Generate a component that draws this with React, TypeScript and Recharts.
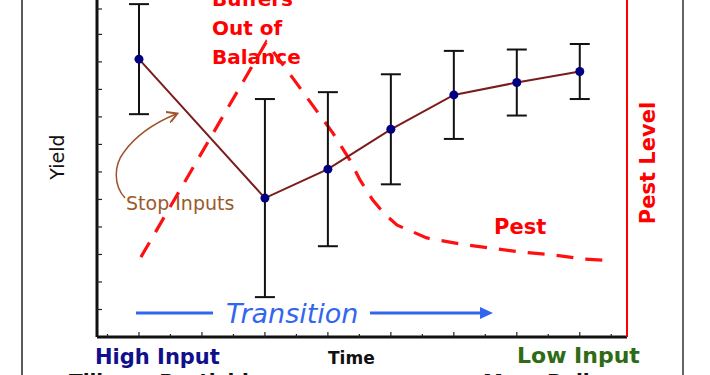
import { LineChart, Line, XAxis, YAxis, ErrorBar, Customized } from 'recharts';

// yield measured at each time step
const times = [1, 3, 4, 5, 6, 7, 8];
const yieldValues = [10.1, 5.05, 6.1, 7.55, 8.8, 9.25, 9.65];
const yieldErrors = [2.0, 3.6, 2.8, 2.0, 1.6, 1.2, 1.0];

// pest level curve (right axis, 0-100)
const pestTimes = [1.03, 3.02, 3.44, 4.08, 4.35, 4.51, 4.71, 4.9, 5.1, 5.57, 6.1, 6.57, 7.08, 7.6, 8.08, 8.4];
const pestValues = [23.7, 87.5, 76.9, 60.5, 52.5, 46.6, 40.7, 36.5, 33.2, 29.4, 27.6, 26.4, 25.2, 24.3, 23.1, 22.8];

const xTicks = [0.5, 1, 1.5, 2, 2.5, 3, 3.5, 4, 4.5, 5, 5.5, 6, 6.5, 7, 7.5, 8, 8.5];
const yTicks = [1, 2, 3, 4, 5, 6, 7, 8, 9, 10, 11, 12];

const yieldData = times.map((t, i) => ({ t, yield: yieldValues[i], err: yieldErrors[i] }));
const pestData = pestTimes.map((t, i) => ({ t, pest: pestValues[i] }));

const FONT = '"DejaVu Sans", Verdana, sans-serif';

const XTick = (props: any) => {
  const { x, y, payload } = props;
  const major = Number.isInteger(payload.value);
  return <line x1={x} x2={x} y1={y} y2={y - (major ? 5 : 3)} stroke="#222" strokeWidth={1.2} />;
};

const YTick = (props: any) => {
  const { x, y } = props;
  return <line x1={x} x2={x + 5} y1={y} y2={y} stroke="#222" strokeWidth={1.2} />;
};

const Annotations = () => (
  <g fontFamily={FONT}>
    <defs>
      <marker id="brownHead" markerWidth="8" markerHeight="8" refX="6" refY="4" orient="auto">
        <path d="M0,0 L7,4 L0,8" fill="none" stroke="#a0522d" strokeWidth={1.3} />
      </marker>
    </defs>
    {/* frame edges */}
    <line x1={22} x2={22} y1={0} y2={375} stroke="#222" strokeWidth={1.5} />
    <line x1={683} x2={683} y1={0} y2={375} stroke="#666" strokeWidth={2} />

    <g fill="#ff0000" fontWeight="bold" fontSize={20}>
      <text x={212} y={6}>Buffers</text>
      <text x={212} y={35}>Out of</text>
      <text x={212} y={64}>Balance</text>
      <text x={494} y={234} fontSize={21}>Pest</text>
      <text x={648} y={163} fontSize={21} textAnchor="middle" dominantBaseline="central" transform="rotate(-90 648 163)">
        Pest Level
      </text>
    </g>

    <path
      d="M125,198 C113,185 114,165 124,152 C134,138 152,124 176,114"
      fill="none"
      stroke="#a0522d"
      strokeWidth={1.5}
      markerEnd="url(#brownHead)"
    />
    <text x={126} y={210} fontSize={19} fill="#9a5a2a">Stop Inputs</text>

    <line x1={136} x2={213} y1={313} y2={313} stroke="#3366ee" strokeWidth={3} />
    <text x={226} y={323} fontSize={27} fontStyle="italic" fill="#3366ee">Transition</text>
    <line x1={370} x2={482} y1={313} y2={313} stroke="#3366ee" strokeWidth={3} />
    <polygon points="480,307 493,313 480,319" fill="#3366ee" />

    <text x={57} y={157} fontSize={19} fill="#111" textAnchor="middle" dominantBaseline="central" transform="rotate(-90 57 157)">
      Yield
    </text>

    <text x={95} y={364} fontSize={21} fontWeight="bold" fill="#10108a">High Input</text>
    <text x={328} y={364} fontSize={17} fontWeight="bold" fill="#111">Time</text>
    <text x={517} y={363} fontSize={22} fontWeight="bold" fill="#2e6b14">Low Input</text>
    <text x={69} y={388} fontSize={20} fontWeight="bold" fill="#111">Tillage, Pesticide</text>
    <text x={483} y={388} fontSize={20} fontWeight="bold" fill="#111">More Reliance</text>
  </g>
);

export default function App() {
  return (
    <div style={{ position: 'absolute', left: 0, top: 0, width: 710, height: 375, background: '#fff' }}>
      <LineChart width={710} height={375} margin={{ top: 0, right: 73, left: 87, bottom: 28 }}>
        <XAxis
          dataKey="t"
          type="number"
          domain={[1 / 3, 8.75]}
          ticks={xTicks}
          allowDataOverflow
          height={10}
          tickSize={0}
          tickMargin={0}
          tickLine={false}
          tick={XTick}
          axisLine={{ stroke: '#111', strokeWidth: 3 }}
        />
        <YAxis
          yAxisId="yield"
          type="number"
          domain={[0, 12.25]}
          ticks={yTicks}
          allowDataOverflow
          width={10}
          tickSize={0}
          tickMargin={0}
          tickLine={false}
          tick={YTick}
          axisLine={{ stroke: '#111', strokeWidth: 3 }}
        />
        <YAxis
          yAxisId="pest"
          orientation="right"
          type="number"
          domain={[0, 100]}
          width={10}
          tick={false}
          tickLine={false}
          axisLine={{ stroke: '#ff0000', strokeWidth: 2 }}
        />
        <Line
          yAxisId="pest"
          data={pestData}
          dataKey="pest"
          type="linear"
          stroke="#ff1010"
          strokeWidth={3.2}
          strokeDasharray="17 12"
          dot={false}
          isAnimationActive={false}
        />
        <Line
          yAxisId="yield"
          data={yieldData}
          dataKey="yield"
          type="linear"
          stroke="#7b1c1c"
          strokeWidth={2}
          dot={{ r: 4.5, fill: '#000080', stroke: 'none' }}
          isAnimationActive={false}
        >
          <ErrorBar dataKey="err" width={10} strokeWidth={2} stroke="#111" direction="y" />
        </Line>
        <Customized component={Annotations} />
      </LineChart>
    </div>
  );
}
